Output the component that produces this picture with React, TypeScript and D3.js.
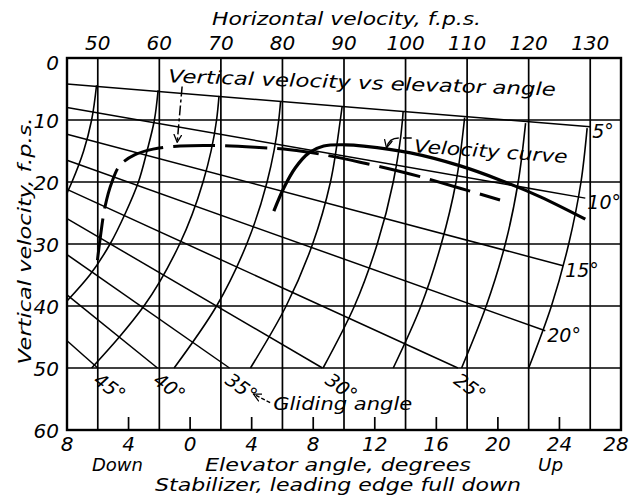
import React, { useRef, useEffect } from 'react';
import * as d3 from 'd3';

const width = 638;
const height = 498;

// top axis: horizontal velocity, f.p.s. (also the vertical grid lines)
const horizVelocities = [50, 60, 70, 80, 90, 100, 110, 120, 130];
// left axis: vertical velocity, f.p.s.
const vertTicks = [0, 10, 20, 30, 40, 50, 60];
// bottom axis: elevator angle, degrees (negative = down)
const elevTicks = [-8, -4, 0, 4, 8, 12, 16, 20, 24, 28];

// gliding angle lines, [Vh, Vv] at each end
const glideAngles = [5, 10, 15, 20, 25, 30, 35, 40, 45];
const glideStart = [[45, 4.2], [45, 8.0], [45, 12.3], [45, 16.5], [45, 21.2], [45, 25.9], [45, 31.7], [45, 38.2], [45, 45.6]];
const glideEnd = [[130, 11.1], [129.2, 22.6], [125.6, 33.5], [122.7, 44.0], [108.5, 50], [86.5, 50], [71.4, 50], [59.7, 50], [50, 50]];

// constant airspeed curves (one per grid velocity), [Vh, Vv]
const speedCurves = [
  [[49.8, 4.4], [49.0, 10], [47.7, 15], [45.8, 20], [45, 21.8]],
  [[59.8, 5.2], [59.2, 10], [58.0, 15], [56.6, 20], [54.5, 25], [52.0, 30], [48.7, 35], [45, 39.2]],
  [[69.7, 6.1], [69.3, 10], [67.1, 20], [63.3, 30], [57.5, 40], [53.5, 45], [49.0, 50]],
  [[79.7, 7.0], [79.4, 10], [77.5, 20], [74.2, 30], [69.3, 40], [62.4, 50]],
  [[89.7, 7.8], [89.4, 10], [87.8, 20], [84.9, 30], [80.6, 40], [74.8, 50]],
  [[99.6, 8.7], [99.5, 10], [98.0, 20], [95.4, 30], [91.7, 40], [86.6, 50]],
  [[109.6, 9.6], [108.2, 20], [105.8, 30], [102.5, 40], [98.0, 50]],
  [[119.5, 10.5], [118.3, 20], [116.2, 30], [113.1, 40], [109.1, 50]],
  [[129.5, 11.3], [128.5, 20], [126.5, 30], [123.7, 40], [120.0, 50]],
];

// velocity curve, [Vh, Vv]
const velocityCurve = [
  [78.6, 24.7], [80.2, 21.0], [82.1, 17.7], [84.3, 15.3], [86.7, 14.2], [90.3, 14.0],
  [93.2, 14.2], [100.8, 15.3], [108.9, 17.4], [115.4, 19.7], [121.9, 22.4], [129.2, 26.0],
];

// vertical velocity vs elevator angle, [elevator deg, Vv]
const elevatorCurve = [
  [-6.02, 32.6], [-5.86, 29.4], [-5.53, 24.0], [-5.08, 20.0], [-4.56, 17.3], [-3.58, 15.6],
  [-2.41, 14.7], [-0.66, 14.2], [1.29, 14.1], [4.22, 14.4], [6.49, 14.8], [8.44, 15.5],
  [11.04, 16.8], [14.29, 18.7], [17.54, 21.0], [20.14, 22.9],
];

const font = '"DejaVu Sans", Verdana, sans-serif';

const App = () => {
  const svgRef = useRef(null);

  useEffect(() => {
    const margin = { top: 58, right: 17, bottom: 68, left: 67 };
    const svg = d3.select(svgRef.current);
    svg.selectAll('*').remove();

    const x = d3.scaleLinear().domain([45, 135]).range([margin.left, width - margin.right]);
    const xElev = d3.scaleLinear().domain([-8, 28]).range([margin.left, width - margin.right]);
    const y = d3.scaleLinear().domain([0, 60]).range([margin.top, height - margin.bottom]);
    const [x0, x1] = x.range();
    const [y0, y1] = y.range();

    svg.append('rect').attr('width', width).attr('height', height).attr('fill', '#fff');

    const defs = svg.append('defs');
    defs.append('marker')
      .attr('id', 'arr')
      .attr('viewBox', '0 -5 10 10')
      .attr('refX', 9)
      .attr('refY', 0)
      .attr('markerWidth', 9)
      .attr('markerHeight', 9)
      .attr('markerUnits', 'userSpaceOnUse')
      .attr('orient', 'auto')
      .append('path')
      .attr('d', 'M0,-4.5L9,0L0,4.5')
      .attr('fill', 'none')
      .attr('stroke', '#000')
      .attr('stroke-width', 1.4);

    const text = (s, px, py, size, opts = {}) => {
      const t = svg.append('text')
        .attr('x', px)
        .attr('y', py)
        .attr('font-family', font)
        .attr('font-style', 'italic')
        .attr('font-size', size)
        .attr('fill', '#000')
        .attr('text-anchor', opts.anchor || 'start')
        .text(s);
      if (opts.len) t.attr('textLength', opts.len).attr('lengthAdjust', 'spacingAndGlyphs');
      if (opts.rotate) t.attr('transform', `rotate(${opts.rotate},${px},${py})`);
      if (opts.baseline) t.attr('dominant-baseline', opts.baseline);
      return t;
    };

    // grid
    svg.append('g')
      .selectAll('line')
      .data(vertTicks.filter(d => d > 0 && d < 60))
      .enter()
      .append('line')
      .attr('x1', x0).attr('x2', x1)
      .attr('y1', d => y(d)).attr('y2', d => y(d))
      .attr('stroke', '#000').attr('stroke-width', 1.7);

    svg.append('g')
      .selectAll('line')
      .data(horizVelocities)
      .enter()
      .append('line')
      .attr('x1', d => x(d)).attr('x2', d => x(d))
      .attr('y1', y0).attr('y2', y1)
      .attr('stroke', '#000').attr('stroke-width', 1.7);

    // short ticks for elevator angle
    svg.append('g')
      .selectAll('line')
      .data(elevTicks.slice(1, -1))
      .enter()
      .append('line')
      .attr('x1', d => xElev(d)).attr('x2', d => xElev(d))
      .attr('y1', y1).attr('y2', y1 - 13)
      .attr('stroke', '#000').attr('stroke-width', 1.7);

    // gliding angle lines
    svg.append('g')
      .selectAll('line')
      .data(glideAngles)
      .enter()
      .append('line')
      .attr('x1', (d, i) => x(glideStart[i][0])).attr('y1', (d, i) => y(glideStart[i][1]))
      .attr('x2', (d, i) => x(glideEnd[i][0])).attr('y2', (d, i) => y(glideEnd[i][1]))
      .attr('stroke', '#000').attr('stroke-width', 1.5);

    // constant airspeed curves
    const speedLine = d3.line()
      .x(d => x(d[0]))
      .y(d => y(d[1]))
      .curve(d3.curveMonotoneY);

    svg.append('g')
      .selectAll('path')
      .data(speedCurves)
      .enter()
      .append('path')
      .attr('d', speedLine)
      .attr('fill', 'none')
      .attr('stroke', '#000')
      .attr('stroke-width', 1.6);

    // vertical velocity vs elevator angle (dashed)
    const elevLine = d3.line()
      .x(d => xElev(d[0]))
      .y(d => y(d[1]))
      .curve(d3.curveCatmullRom.alpha(0.5));

    svg.append('path')
      .datum(elevatorCurve)
      .attr('d', elevLine)
      .attr('fill', 'none')
      .attr('stroke', '#000')
      .attr('stroke-width', 3)
      .attr('stroke-dasharray', '42 10');

    // velocity curve
    const velLine = d3.line()
      .x(d => x(d[0]))
      .y(d => y(d[1]))
      .curve(d3.curveCatmullRom.alpha(0.5));

    svg.append('path')
      .datum(velocityCurve)
      .attr('d', velLine)
      .attr('fill', 'none')
      .attr('stroke', '#000')
      .attr('stroke-width', 3.2);

    // frame
    svg.append('rect')
      .attr('x', x0).attr('y', y0)
      .attr('width', x1 - x0).attr('height', y1 - y0)
      .attr('fill', 'none').attr('stroke', '#000').attr('stroke-width', 2.4);

    // glide angle labels
    glideAngles.forEach((a, i) => {
      const [vh, vv] = glideEnd[i];
      if (vv < 50) {
        text(`${a}°`, x(vh) + 2, y(vv) + 11, 19);
      } else {
        text(`${a}°`, x(vh) + (a === 30 ? 10 : 3), y(vv) + 3, 19, { rotate: 36, baseline: 'hanging' });
      }
    });

    // axis labels
    horizVelocities.forEach(v => text(String(v), x(v), y0 - 8, 20, { anchor: 'middle' }));
    vertTicks.forEach(v => text(String(v), x0 - 8, y(v) + (v === 0 ? 12 : 8), 20, { anchor: 'end' }));
    elevTicks.forEach(v => text(String(Math.abs(v)), xElev(v) + (v === 28 ? -5 : 0), y1 + 21, 20, { anchor: 'middle' }));

    text('Horizontal velocity, f.p.s.', 212, 25, 18, { len: 269 });
    text('Vertical velocity, f.p.s.', 31, 241, 18, { anchor: 'middle', rotate: -90, len: 247 });
    text('Down', 92, 471, 18, { len: 51 });
    text('Elevator angle, degrees', 205, 471, 18, { len: 266 });
    text('Up', 538, 471, 18, { len: 25 });
    text('Stabilizer, leading edge full down', 155, 491, 18, { len: 366 });

    // annotations
    text('Vertical velocity vs elevator angle', x(61.4), y(3.9), 18, { len: 388, rotate: 2 });
    svg.append('line')
      .attr('x1', x(63.7)).attr('y1', y(4.6))
      .attr('x2', x(62.9)).attr('y2', y(13.6))
      .attr('stroke', '#000').attr('stroke-width', 1.5)
      .attr('stroke-dasharray', '10 3 3 3')
      .attr('marker-end', 'url(#arr)');

    text('Velocity curve', x(101.3), y(15.2), 18, { len: 154, rotate: 4 });
    svg.append('path')
      .attr('d', `M${x(101.0)},${y(12.9)} L${x(99.6)},${y(12.9)} M${x(98.9)},${y(12.9)} Q${x(97.3)},${y(12.9)} ${x(96.9)},${y(14.5)}`)
      .attr('fill', 'none')
      .attr('stroke', '#000').attr('stroke-width', 1.4)
      .attr('marker-end', 'url(#arr)');

    text('Gliding angle', x(78.5), y(56.8), 18, { len: 139 });
    svg.append('line')
      .attr('x1', x(78.0)).attr('y1', y(55.6))
      .attr('x2', x(75.3)).attr('y2', y(54.2))
      .attr('stroke', '#000').attr('stroke-width', 1.4)
      .attr('stroke-dasharray', '4 2')
      .attr('marker-end', 'url(#arr)');
  }, []);

  return (
    <svg
      ref={svgRef}
      width={width}
      height={height}
      style={{ position: 'absolute', left: 0, top: 0, display: 'block' }}
    ></svg>
  );
};

export default App;
